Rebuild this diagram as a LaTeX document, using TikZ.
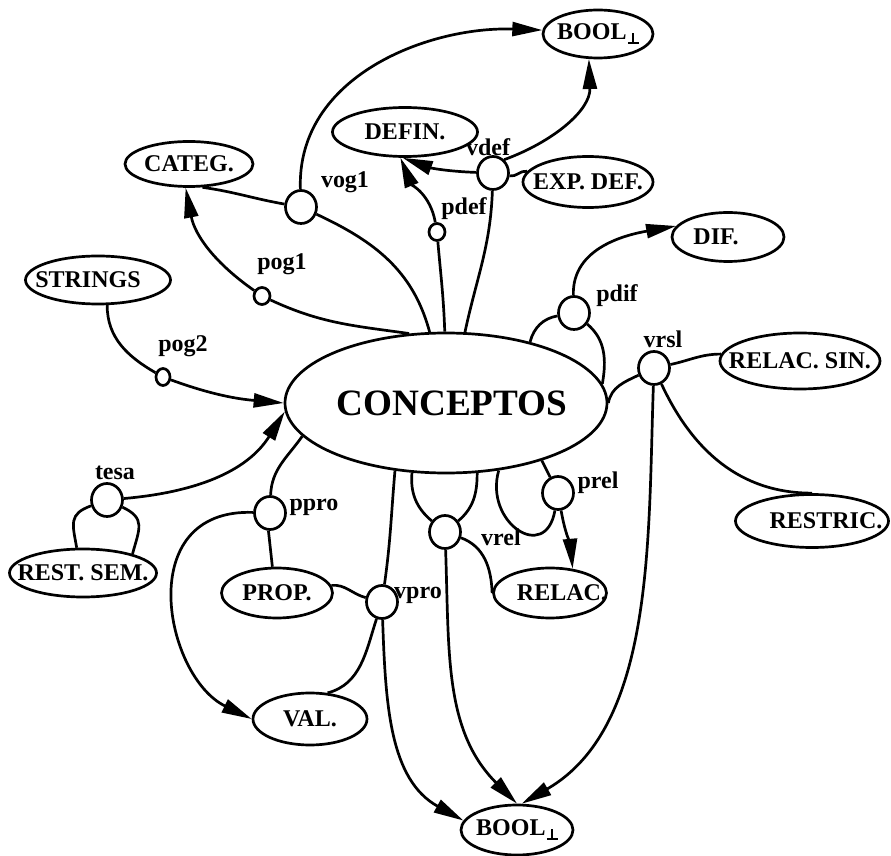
\documentclass[tikz,border=0pt]{standalone}
\usepackage{fontspec}
\setmainfont{Liberation Serif}
\usetikzlibrary{shapes.geometric, arrows.meta}
\newcommand{\elltext}[1]{\makebox[0pt]{#1}}
\newcommand{\boolbot}{BOOL\hspace{0.6pt}\raisebox{-2pt}{\makebox[5.5pt][l]{\rule{5.5pt}{1.2pt}\hspace{-3.35pt}\rule{1.2pt}{5.5pt}}}}

\begin{document}
\begin{tikzpicture}[
    x=0.5pt, y=-0.5pt,
    line width=1.35pt,
    every node/.style={font=\fontsize{12}{14}\selectfont\bfseries},
    set/.style={ellipse, draw, inner sep=0pt},
    rel/.style={ellipse, draw, inner sep=0pt, minimum width=15.5pt, minimum height=16.5pt},
    tinyrel/.style={ellipse, draw, inner sep=0pt, minimum width=8pt, minimum height=8.5pt},
    lbl/.style={inner sep=0pt},
    arrow/.style={-{Triangle[length=15pt, width=7pt]}}
]
    \useasboundingbox (0,0) rectangle (891,856);

    % Sets
    \node[set, minimum width=161pt, minimum height=70pt, font=\fontsize{18.6}{22}\selectfont\bfseries] (concept) at (446,403) {\elltext{\hspace{6pt}CONCEPTOS}};
    \node[set, minimum width=55pt, minimum height=24pt] (boolA) at (598,34) {\elltext{\boolbot}};
    \node[set, minimum width=72.5pt, minimum height=24.5pt] (defin) at (405,132) {\elltext{DEFIN.}};
    \node[set, minimum width=65pt, minimum height=25.5pt] (expdef) at (588,182) {\elltext{EXP. DEF.}};
    \node[set, minimum width=64pt, minimum height=22.5pt] (categ) at (189,164) {\elltext{CATEG.}};
    \node[set, minimum width=72.5pt, minimum height=24pt] (strings) at (98,280) {\elltext{STRINGS\hspace{10pt}}};
    \node[set, minimum width=56pt, minimum height=24.5pt] (dif) at (728,237) {\elltext{DIF.\hspace{12pt}}};
    \node[set, minimum width=80pt, minimum height=28pt] (relsin) at (800,361) {\elltext{RELAC. SIN.}};
    \node[set, minimum width=76.5pt, minimum height=26.5pt] (restric) at (812,521) {\elltext{\hspace{14pt}RESTRIC.}};
    \node[set, minimum width=73.5pt, minimum height=24pt] (restsem) at (83,573) {\elltext{REST. SEM.}};
    \node[set, minimum width=55.5pt, minimum height=25pt] (prop) at (277,593) {\elltext{PROP.}};
    \node[set, minimum width=56.5pt, minimum height=25pt] (relac) at (550,593) {\elltext{\hspace{12pt}RELAC.}};
    \node[set, minimum width=57pt, minimum height=26pt] (val) at (310,719) {\elltext{VAL.}};
    \node[set, minimum width=56pt, minimum height=25pt] (boolB) at (517,830) {\elltext{\boolbot}};

    % Relations
    \node[rel] (vog1) at (301,207) {};
    \node[tinyrel] (pog1) at (262,296) {};
    \node[tinyrel] (pdef) at (437,232) {};
    \node[rel] (vdef) at (493,173) {};
    \node[tinyrel, minimum width=7pt] (pog2) at (163,377) {};
    \node[rel] (pdif) at (574,313) {};
    \node[rel] (vrsl) at (654,368) {};
    \node[rel] (tesa) at (107,500) {};
    \node[rel] (ppro) at (270,513) {};
    \node[rel] (vpro) at (382,602) {};
    \node[rel] (vrel) at (445,532) {};
    \node[rel] (prel) at (558,493) {};

    % Relation names
    \node[lbl] (l-vog1) at (345,182) {vog1};
    \node[lbl] (l-pog1) at (282,264) {pog1};
    \node[lbl] (l-pdef) at (464,209) {pdef};
    \node[lbl] (l-vdef) at (488,147) {vdef};
    \node[lbl] (l-pog2) at (183,346) {pog2};
    \node[lbl] (l-pdif) at (617,296) {pdif};
    \node[lbl] (l-vrsl) at (663,339) {vrsl};
    \node[lbl] (l-tesa) at (115,473) {tesa};
    \node[lbl] (l-ppro) at (314,507) {ppro};
    \node[lbl] (l-vpro) at (418,595) {vpro};
    \node[lbl] (l-vrel) at (501,537) {vrel};
    \node[lbl] (l-prel) at (598,483) {prel};

    % Upper connectors
    \draw[arrow] (pog1) to[out=145, in=-79] (categ.-98);
    \draw (pog1) to[out=-25, in=172] (concept.118);
    \draw (categ.-60) to[out=-8, in=170] (vog1);
    \draw (vog1) to[out=-25, in=105] (concept.103);
    \draw[arrow] (vog1) to[out=92, in=178] (boolA.176);
    \draw[arrow] (pdef) to[out=100, in=-68] (defin.-100);
    \draw (pdef) to[out=-85, in=92] (concept.91);
    \draw[arrow] (vdef) to[out=178, in=-20] (defin.-95);
    \draw[arrow] (vdef.50) to[out=20, in=-88] (boolA.-110);
    \draw (vdef) to[out=-10, in=170] (expdef);
    \draw (vdef) to[out=-92, in=78] (concept.75);
    \draw (strings.-70) to[out=-90, in=150] (pog2);
    \draw[arrow] (pog2) to[out=-20, in=175] (concept.west);

    % Right connectors
    \draw[arrow] (pdif) to[out=92, in=190] (dif.168);
    \draw (concept.36) to[out=75, in=190] (pdif);
    \draw (pdif) to[out=-40, in=80] (concept.7);
    \draw (concept.east) to[out=80, in=205] (vrsl);
    \draw (vrsl) to[out=12, in=180] (relsin.175);
    \draw (vrsl) to[out=-65, in=180] (restric.north);
    \draw[arrow] (vrsl) to[out=-92, in=30, looseness=0.9] (boolB.80);

    % Left and lower connectors
    \draw[arrow] (tesa) to[out=5, in=238] (concept.183);
    \draw (tesa) to[out=200, in=100, looseness=1.4] (restsem.104);
    \draw (tesa) to[out=-25, in=75, looseness=1.4] (restsem.21);
    \draw (concept.193) to[out=235, in=88] (ppro);
    \draw (ppro.-95) -- (prop.100);
    \draw[arrow] (ppro) to[out=178, in=154, out looseness=1.5, in looseness=1.2] (val.west);
    \draw (prop.8) to[out=5, in=165] (vpro);
    \draw (concept.233) to[out=-95, in=82] (vpro);
    \draw (vpro) to[out=-108, in=15] (val.56);
    \draw[arrow] (vpro) to[out=-88, in=151] (boolB.170);
    \draw (concept.244) to[out=-95, in=140] (vrel);
    \draw (vrel) to[out=40, in=-90] (concept.294);
    \draw[arrow] (vrel) to[out=-88, in=135] (boolB.north);
    \draw (vrel) to[out=-20, in=92] (relac.west);
    \draw (concept.308) to[out=-106, in=-100, looseness=2] (prel);
    \draw (concept.329) -- (prel);
    \draw[arrow] (prel) to[out=-80, in=95] (relac.47);
\end{tikzpicture}
\end{document}
